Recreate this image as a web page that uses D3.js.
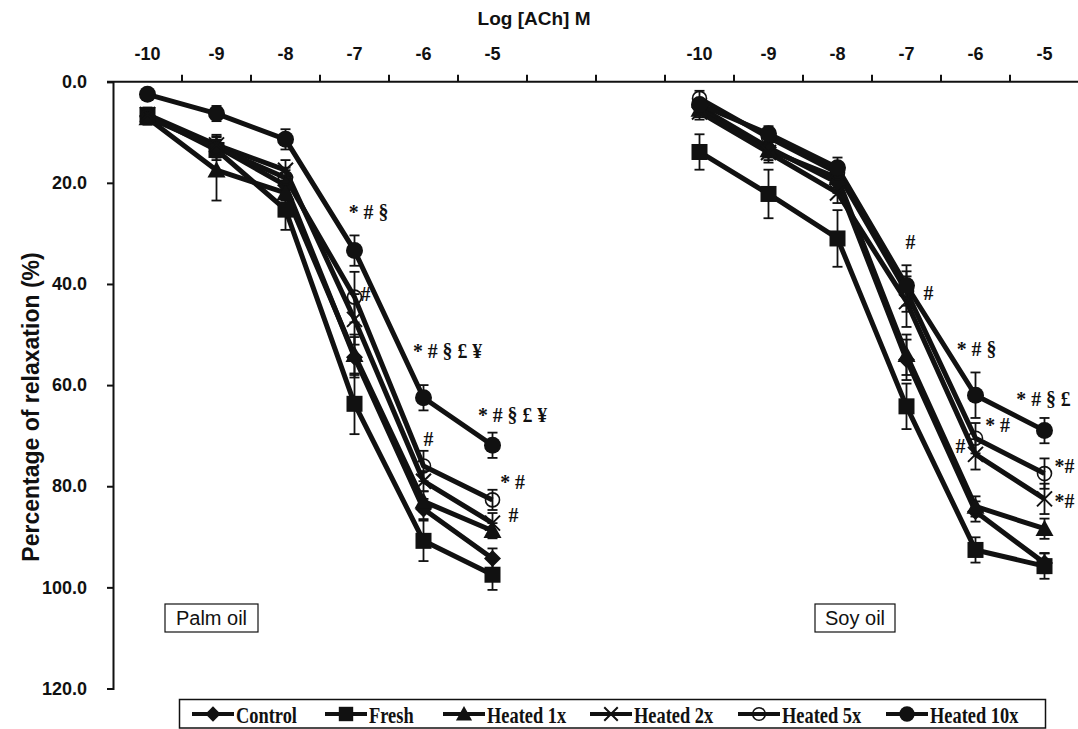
<!DOCTYPE html>
<html><head><meta charset="utf-8">
<script src="https://cdn.jsdelivr.net/npm/d3@7"></script>
<style>body{margin:0;background:#fff}</style>
</head><body>
<svg id="c" width="1078" height="729"></svg>
<script>
const categories = ["-10","-9","-8","-7","-6","-5"];
const seriesNames = ["Control","Fresh","Heated 1x","Heated 2x","Heated 5x","Heated 10x"];
const yTicks = [0,20,40,60,80,100,120];

const palmControl = [6.8, 12.8, 20.5, 54.5, 84.5, 94.3];
const palmFresh   = [6.6, 13.5, 25.3, 63.7, 90.8, 97.5];
const palm1x      = [7.2, 17.5, 22.0, 54.0, 83.0, 88.8];
const palm2x      = [6.5, 12.5, 17.5, 47.0, 79.0, 87.3];
const palm5x      = [7.0, 13.0, 19.0, 42.6, 76.0, 82.7];
const palm10x     = [2.5, 6.3, 11.4, 33.4, 62.5, 71.9];
const palmControlErr = [1.5, 2, 3, 4, 2, 2];
const palmFreshErr   = [1.5, 2, 4, 6, 4, 3];
const palm1xErr      = [1, 6, 3, 4, 2, 1.5];
const palm2xErr      = [1, 2, 2, 5, 2, 2];
const palm5xErr      = [1.5, 2, 2, 5, 3, 2];
const palm10xErr     = [1, 1.5, 2, 3, 2.5, 2.5];

const soyControl = [5.0, 13.0, 20.0, 55.0, 85.0, 95.2];
const soyFresh   = [13.9, 22.2, 31.0, 64.2, 92.6, 95.8];
const soy1x      = [5.5, 13.5, 19.0, 54.0, 84.0, 88.4];
const soy2x      = [6.0, 14.0, 22.0, 43.5, 73.7, 82.5];
const soy5x      = [3.3, 11.0, 18.0, 41.5, 70.5, 77.5];
const soy10x     = [4.5, 10.3, 17.0, 40.3, 62.0, 69.0];
const soyControlErr = [1.5, 2, 2, 4, 2, 2];
const soyFreshErr   = [3.5, 4.8, 5.6, 4.5, 2.5, 2.5];
const soy1xErr      = [1.5, 2, 2, 4, 2, 2];
const soy2xErr      = [1.5, 2, 2, 5, 3, 3];
const soy5xErr      = [1.5, 1.5, 2, 4, 3, 3];
const soy10xErr     = [1, 1.5, 2, 4, 4.5, 2.5];

const symbols = ["diamond","square","triangle","cross","open","circle"];

// annotations: [group, category, series index, text, dx, dy]
const annotations = [
  ["P","-7",5,"* # §", 14, -37],
  ["P","-7",4,"#", 11, -1],
  ["P","-6",5,"* # § £ ¥", 24, -45],
  ["P","-6",4,"#", 5, -25],
  ["P","-5",5,"* # § £ ¥", 20, -28],
  ["P","-5",4,"* #", 20, -16],
  ["P","-5",3,"#", 21, -6],
  ["S","-7",5,"#", 4, -42],
  ["S","-7",5,"#", 22, 9],
  ["S","-6",5,"* # §", 1, -44],
  ["S","-6",4,"* #", 22, -11],
  ["S","-6",3,"#", -15, -6],
  ["S","-5",5,"* # § £", -1, -30],
  ["S","-5",4,"*#", 20, -6],
  ["S","-5",3,"*#", 20, 4]
];

const palm = [palmControl, palmFresh, palm1x, palm2x, palm5x, palm10x];
const palmE = [palmControlErr, palmFreshErr, palm1xErr, palm2xErr, palm5xErr, palm10xErr];
const soy = [soyControl, soyFresh, soy1x, soy2x, soy5x, soy10x];
const soyE = [soyControlErr, soyFreshErr, soy1xErr, soy2xErr, soy5xErr, soy10xErr];

const slots = categories.map(c => "P" + c).concat(["g1","g2"], categories.map(c => "S" + c));

const svg = d3.select("#c");
const x = d3.scaleBand().domain(slots).range([113, 1079]).padding(0);
const y = d3.scaleLinear().domain([0, 120]).range([81.7, 688.5]);
const bw = x.bandwidth();
const cx = k => x(k) + bw / 2;
const SANS = "Liberation Sans, Arial, sans-serif";
const SERIF = "Liberation Serif, Times New Roman, serif";

// top axis
const ax = svg.append("g");
ax.append("line").attr("x1", 107).attr("x2", 1078).attr("y1", y(0)).attr("y2", y(0))
  .attr("stroke", "#111").attr("stroke-width", 2);
slots.forEach((k, i) => {
  if (i > 0) ax.append("line").attr("x1", x(k)).attr("x2", x(k)).attr("y1", y(0)).attr("y2", y(0) - 7)
    .attr("stroke", "#111").attr("stroke-width", 2);
});
slots.forEach(k => {
  if (k[0] === "g") return;
  ax.append("text").attr("x", cx(k)).attr("y", 60).attr("text-anchor", "middle")
    .attr("font-family", SANS).attr("font-weight", "bold")
    .attr("font-size", 18).attr("fill", "#111").text(k.slice(1));
});
svg.append("text").attr("x", 534).attr("y", 25).attr("text-anchor", "middle")
  .attr("font-family", SANS).attr("font-weight", "bold")
  .attr("font-size", 19).attr("fill", "#111").text("Log [ACh] M");

// left axis
const yAxis = d3.axisLeft(y).tickValues(yTicks).tickFormat(d3.format(".1f")).tickSize(6).tickPadding(20);
const ya = svg.append("g").attr("transform", "translate(113,0)").call(yAxis);
ya.select(".domain").attr("stroke", "#111").attr("stroke-width", 2);
ya.selectAll(".tick line").attr("stroke", "#111").attr("stroke-width", 2);
ya.selectAll(".tick text").attr("font-family", SANS)
  .attr("font-weight", "bold").attr("font-size", 18).attr("fill", "#111");
svg.append("text").attr("transform", "translate(39,407) rotate(-90)").attr("text-anchor", "middle")
  .attr("font-family", SANS).attr("font-weight", "bold")
  .attr("font-size", 23).attr("fill", "#111").text("Percentage of relaxation (%)");

function marker(g, type, px, py, s) {
  s = s || 1;
  if (type === "diamond") {
    const r = 8.5 * s;
    g.append("path").attr("d", `M${px},${py - r}L${px + r},${py}L${px},${py + r}L${px - r},${py}Z`).attr("fill", "#111");
  } else if (type === "square") {
    const r = 8 * s;
    g.append("rect").attr("x", px - r).attr("y", py - r).attr("width", 2 * r).attr("height", 2 * r).attr("fill", "#111");
  } else if (type === "triangle") {
    const r = 9 * s;
    g.append("path").attr("d", `M${px},${py - r}L${px + r},${py + r * 0.8}L${px - r},${py + r * 0.8}Z`).attr("fill", "#111");
  } else if (type === "cross") {
    const r = 7.5 * s;
    g.append("path").attr("d", `M${px - r},${py - r}L${px + r},${py + r}M${px - r},${py + r}L${px + r},${py - r}`)
      .attr("stroke", "#111").attr("stroke-width", 2);
  } else if (type === "open") {
    g.append("circle").attr("cx", px).attr("cy", py).attr("r", 7 * s).attr("fill", "none")
      .attr("stroke", "#111").attr("stroke-width", 1.6);
  } else {
    g.append("circle").attr("cx", px).attr("cy", py).attr("r", 8.5 * s).attr("fill", "#111");
  }
}

const line = d3.line();
function drawGroup(prefix, vals, errs) {
  const g = svg.append("g");
  vals.forEach((arr) => {
    const pts = arr.map((v, i) => [cx(prefix + categories[i]), y(v)]);
    g.append("path").attr("d", line(pts)).attr("fill", "none").attr("stroke", "#111")
      .attr("stroke-width", 5).attr("stroke-linejoin", "round");
  });
  vals.forEach((arr, si) => {
    arr.forEach((v, i) => {
      const px = cx(prefix + categories[i]);
      const e = errs[si][i];
      const y1 = y(v - e), y2 = y(v + e);
      g.append("line").attr("x1", px).attr("x2", px).attr("y1", y1).attr("y2", y2).attr("stroke", "#111").attr("stroke-width", 1.8);
      [y1, y2].forEach(yy => g.append("line").attr("x1", px - 5).attr("x2", px + 5).attr("y1", yy).attr("y2", yy)
        .attr("stroke", "#111").attr("stroke-width", 1.8));
    });
  });
  vals.forEach((arr, si) => {
    arr.forEach((v, i) => marker(g, symbols[si], cx(prefix + categories[i]), y(v)));
  });
}
drawGroup("P", palm, palmE);
drawGroup("S", soy, soyE);

// annotations
annotations.forEach(a => {
  const vals = a[0] === "P" ? palm : soy;
  const px = cx(a[0] + a[1]) + a[4];
  const py = y(vals[a[2]][categories.indexOf(a[1])]) + a[5];
  svg.append("text").attr("transform", `translate(${px},${py}) scale(0.9,1)`).attr("text-anchor", "middle")
    .attr("dominant-baseline", "middle")
    .attr("font-family", SERIF).attr("font-weight", "bold")
    .attr("font-size", 22).attr("fill", "#111").text(a[3]);
});

// group labels
[["Palm oil", 165, 258], ["Soy oil", 815, 895]].forEach(d => {
  svg.append("rect").attr("x", d[1]).attr("y", 604).attr("width", d[2] - d[1]).attr("height", 28)
    .attr("fill", "#fff").attr("stroke", "#111").attr("stroke-width", 1.2);
  svg.append("text").attr("x", (d[1] + d[2]) / 2).attr("y", 625).attr("text-anchor", "middle")
    .attr("font-family", SANS).attr("font-size", 20).attr("fill", "#111").text(d[0]);
});

// legend
const lg = svg.append("g");
lg.append("rect").attr("x", 179.5).attr("y", 699.5).attr("width", 866).attr("height", 28.5)
  .attr("fill", "#fff").attr("stroke", "#111").attr("stroke-width", 1.5);
const legX = [192, 325, 443, 590, 738, 886];
seriesNames.forEach((n, i) => {
  const lx = legX[i];
  lg.append("line").attr("x1", lx).attr("x2", lx + 42).attr("y1", 714).attr("y2", 714).attr("stroke", "#111").attr("stroke-width", 4);
  marker(lg, symbols[i], lx + 21, 714, 0.9);
  lg.append("text").attr("transform", `translate(${lx + 44},723) scale(0.8,1)`).attr("font-family", SERIF)
    .attr("font-weight", "bold").attr("font-size", 23).attr("fill", "#111").text(n);
});
</script>
</body></html>
